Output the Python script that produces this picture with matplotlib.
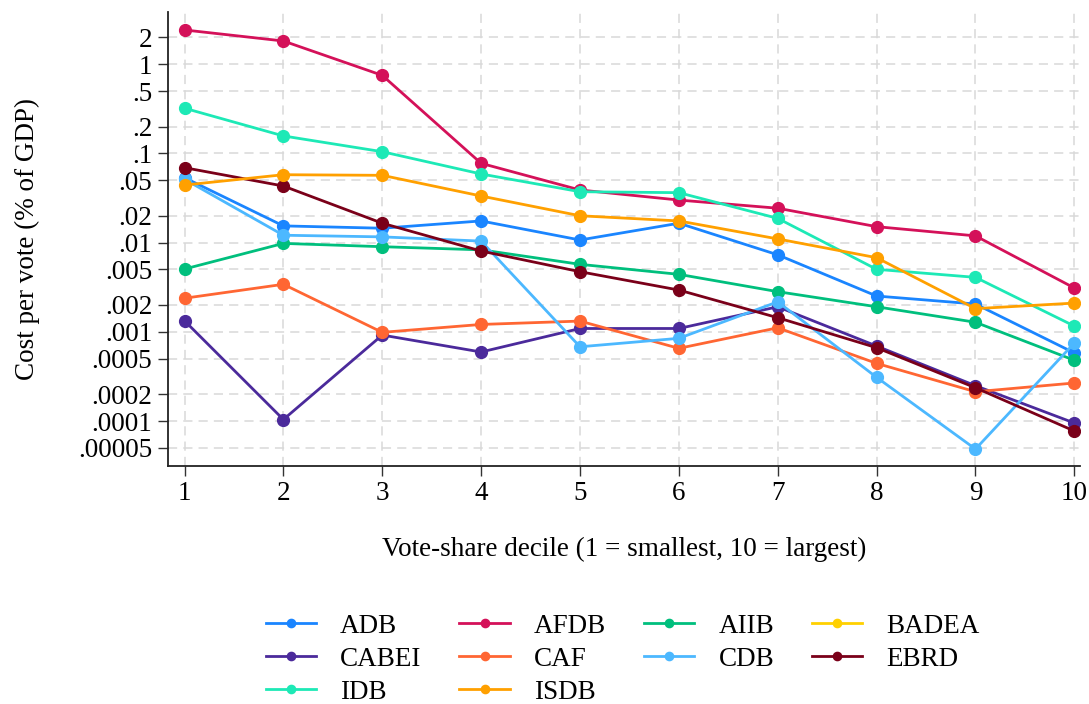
import numpy as np
import matplotlib
matplotlib.use("Agg")
import matplotlib.pyplot as plt

plt.rcParams['font.family'] = ['Liberation Serif', 'DejaVu Serif']

deciles = np.arange(1, 11)

# cost per vote (% of GDP) by vote-share decile
adb = [0.0534, 0.0154, 0.0145, 0.0175, 0.0107, 0.0165, 0.0073, 0.00252, 0.00205, 0.00058]
afdb = [2.42, 1.82, 0.75, 0.0774, 0.0389, 0.0300, 0.0243, 0.0151, 0.0119, 0.0031]
aiib = [0.00506, 0.0098, 0.0090, 0.0083, 0.00571, 0.00441, 0.00282, 0.00191, 0.00128, 0.00048]
badea = [np.nan] * 10
cabei = [0.00133, 0.000104, 0.00092, 0.000594, 0.00109, 0.00109, 0.00191, 0.000693, 0.000249, 0.000095]
caf = [0.00238, 0.00341, 0.000987, 0.00121, 0.00132, 0.000653, 0.00111, 0.000443, 0.000213, 0.000267]
cdb = [0.0513, 0.0121, 0.0116, 0.0104, 0.00068, 0.000846, 0.00217, 0.000309, 0.0000485, 0.00075]
ebrd = [0.0692, 0.0431, 0.0165, 0.00805, 0.00472, 0.00294, 0.00144, 0.000664, 0.000236, 0.0000773]
idb = [0.321, 0.157, 0.1045, 0.0588, 0.0372, 0.0363, 0.0187, 0.00502, 0.00408, 0.00116]
isdb = [0.0442, 0.0577, 0.0568, 0.0333, 0.0200, 0.0175, 0.0110, 0.00678, 0.00182, 0.0021]

names = ["ADB", "AFDB", "AIIB", "BADEA", "CABEI", "CAF", "CDB", "EBRD", "IDB", "ISDB"]
series = [adb, afdb, aiib, badea, cabei, caf, cdb, ebrd, idb, isdb]
colors = ["#1a85ff", "#d41159", "#00bf7d", "#ffd000", "#4b2a9b",
          "#ff6633", "#4cb8ff", "#7a0019", "#1de9b6", "#ffa000"]

yticks = [0.00005, 0.0001, 0.0002, 0.0005, 0.001, 0.002, 0.005, 0.01,
          0.02, 0.05, 0.1, 0.2, 0.5, 1, 2]
ytick_labels = [".00005", ".0001", ".0002", ".0005", ".001", ".002", ".005", ".01",
                ".02", ".05", ".1", ".2", ".5", "1", "2"]

fs = 19.5

fig = plt.figure(figsize=(10.89, 7.04), dpi=100)
ax = fig.add_axes([0.154, 0.338, 0.838, 0.645])

lines = {}
for name, vals, col in zip(names, series, colors):
    ln, = ax.plot(deciles, vals, color=col, lw=2, marker='o', ms=8.5,
                  label=name, zorder=3)
    lines[name] = ln

ax.set_yscale('log')
ax.set_ylim(3.13e-5, 3.85)
ax.set_xlim(0.83, 10.06)
ax.set_yticks(yticks)
ax.set_yticklabels(ytick_labels)
ax.minorticks_off()
ax.set_xticks(deciles)
ax.tick_params(labelsize=fs, length=7, width=1, color='#333333', pad=4)
ax.grid(True, color='#d9d9d9', ls=(0, (6, 4)), lw=1.1)
ax.set_axisbelow(True)
for s in ['top', 'right']:
    ax.spines[s].set_visible(False)
for s in ['left', 'bottom']:
    ax.spines[s].set_linewidth(1.3)
    ax.spines[s].set_color('#222222')

ax.set_xlabel("Vote-share decile (1 = smallest, 10 = largest)", fontsize=fs)
ax.set_ylabel("Cost per vote (% of GDP)", fontsize=fs)
ax.xaxis.set_label_coords(0.5, -0.155)
ax.yaxis.set_label_coords(-0.14, 0.5)

# legend fills column by column, so order handles to read across rows
order = ["ADB", "CABEI", "IDB", "AFDB", "CAF", "ISDB", "AIIB", "CDB", "BADEA", "EBRD"]
fig.legend([lines[n] for n in order], order, ncol=4, loc='upper center',
           bbox_to_anchor=(0.572, 1 - 600 / 704), frameon=False, fontsize=fs,
           handlelength=1.85, handletextpad=0.9, columnspacing=1.4,
           labelspacing=0.3, markerscale=0.7, borderpad=0)

fig.savefig("out.png", dpi=100)
